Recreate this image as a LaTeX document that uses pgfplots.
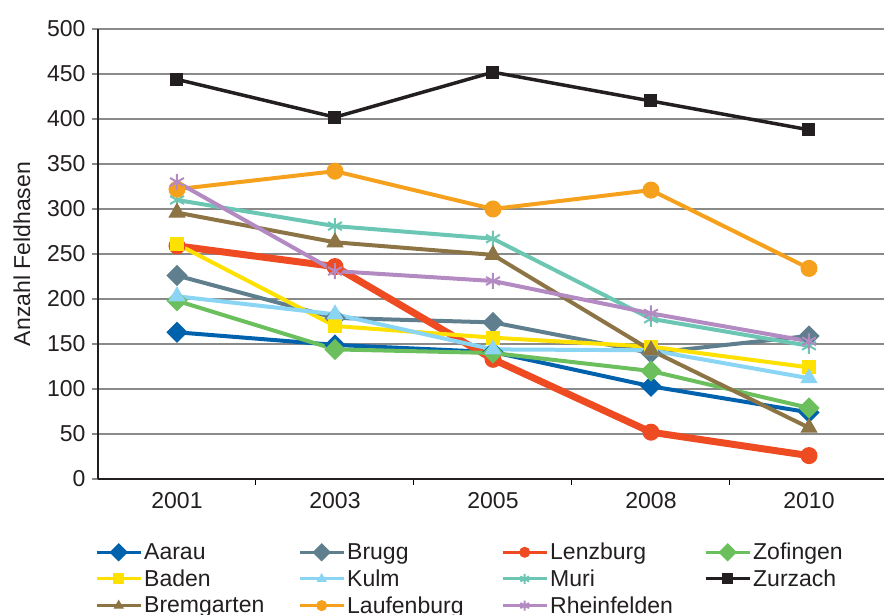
\documentclass[border=0pt]{standalone}
\usepackage{fontspec}
\setmainfont{Liberation Sans}
\usepackage{pgfplots}
\pgfplotsset{compat=1.18}

\definecolor{cAarau}{HTML}{0062AC}
\definecolor{cBrugg}{HTML}{5F7F8E}
\definecolor{cLenzburg}{HTML}{EE4B23}
\definecolor{cZofingen}{HTML}{6BBF5C}
\definecolor{cBaden}{HTML}{FFE100}
\definecolor{cKulm}{HTML}{8AD4F4}
\definecolor{cMuri}{HTML}{6BC6B4}
\definecolor{cZurzach}{HTML}{231F20}
\definecolor{cBremgarten}{HTML}{8C7445}
\definecolor{cLaufenburg}{HTML}{F6A11E}
\definecolor{cRheinfelden}{HTML}{B48AC3}
\definecolor{gridgray}{HTML}{8A8A8A}
\definecolor{txt}{HTML}{231F20}

\newcommand{\lw}[1]{\makebox[148pt][l]{#1}}

\begin{document}
\begin{tikzpicture}[font=\fontsize{23}{27}\selectfont, text=txt]
\begin{axis}[
  scale only axis,
  width=790pt, height=450pt,
  xmin=-0.5, xmax=4.5,
  ymin=0, ymax=500,
  xtick={0,1,2,3,4},
  xticklabels={2001,2003,2005,2008,2010},
  minor xtick={0.5,1.5,2.5,3.5},
  major x tick style={draw=none},
  minor x tick style={draw=black, line width=1pt},
  minor tick length=6pt,
  ytick distance=50,
  major tick length=6pt,
  tick align=outside,
  ytick style={draw=gridgray, line width=1.5pt},
  axis x line*=bottom,
  axis y line*=left,
  axis line style={line width=1.4pt, draw=txt, -},
  ymajorgrids,
  grid style={draw=gridgray, line width=1.5pt},
  tick label style={font=\fontsize{23}{27}\selectfont},
  /pgf/number format/assume math mode=true,
  xticklabel style={yshift=-4pt},
  yticklabel style={xshift=-3pt},
  ylabel={Anzahl Feldhasen},
  every axis y label/.style={at={(axis description cs:-0.0962,0.5)}, rotate=90, anchor=center,
    font=\fontsize{23}{27}\selectfont},
  clip=false,
  legend columns=4,
  legend style={at={(0,0)}, anchor=north west, yshift=-62pt, xshift=-3pt,
    draw=none, fill=none, inner sep=0pt, row sep=4.5pt,
    font=\fontsize{23}{27}\selectfont,
    /tikz/every even column/.append style={column sep=4pt}},
  legend cell align=left,
  legend image code/.code={
    \draw[line width=3pt, mark size=5pt, mark repeat=2, mark phase=2]
      plot coordinates {(0pt,0pt) (22pt,0pt) (44pt,0pt)};
  },
  every axis plot/.append style={line width=4pt, mark options={solid, line width=1pt}},
]
% Aarau
\addplot[cAarau, mark=square*, mark size=5.5pt, mark options={rotate=45}] coordinates {(0,163) (1,149) (2,141) (3,103) (4,74)};
% Brugg
\addplot[cBrugg, mark=square*, mark size=5.5pt, mark options={rotate=45}] coordinates {(0,226) (1,179) (2,174) (3,140) (4,159)};
% Lenzburg
\addplot[cLenzburg, line width=7pt, mark=*, mark size=8pt] coordinates {(0,259) (1,236) (2,133) (3,52) (4,26)};
% Zofingen
\addplot[cZofingen, mark=square*, mark size=5.5pt, mark options={rotate=45}] coordinates {(0,198) (1,144) (2,140) (3,120) (4,79)};
% Baden
\addplot[cBaden, mark=square*, mark size=6.5pt] coordinates {(0,261) (1,170) (2,157) (3,147) (4,124)};
% Kulm
\addplot[cKulm, mark=triangle*, mark size=9pt] coordinates {(0,203) (1,183) (2,144) (3,143) (4,112)};
% Muri
\addplot[cMuri, mark=asterisk, mark size=8pt, mark options={line width=2pt}] coordinates {(0,310) (1,281) (2,267) (3,178) (4,148)};
% Zurzach
\addplot[cZurzach, line width=3.5pt, mark=square*, mark size=6pt] coordinates {(0,444) (1,402) (2,452) (3,420) (4,388)};
% Bremgarten
\addplot[cBremgarten, mark=triangle*, mark size=9pt] coordinates {(0,296) (1,263) (2,249) (3,143) (4,57)};
% Laufenburg
\addplot[cLaufenburg, mark=*, mark size=8pt] coordinates {(0,322) (1,342) (2,300) (3,321) (4,234)};
% Rheinfelden
\addplot[cRheinfelden, mark=asterisk, mark size=8pt, mark options={line width=2pt}] coordinates {(0,330) (1,231) (2,220) (3,184) (4,153)};

\legend{\lw{Aarau},\lw{Brugg},\lw{Lenzburg},\lw{Zofingen},
        \lw{Baden},\lw{Kulm},\lw{Muri},\lw{Zurzach},
        \lw{Bremgarten},\lw{Laufenburg},\lw{Rheinfelden}}
\end{axis}
\pgfresetboundingbox
\useasboundingbox (-98pt,-136pt) rectangle (786pt,479pt);
\end{tikzpicture}
\end{document}
